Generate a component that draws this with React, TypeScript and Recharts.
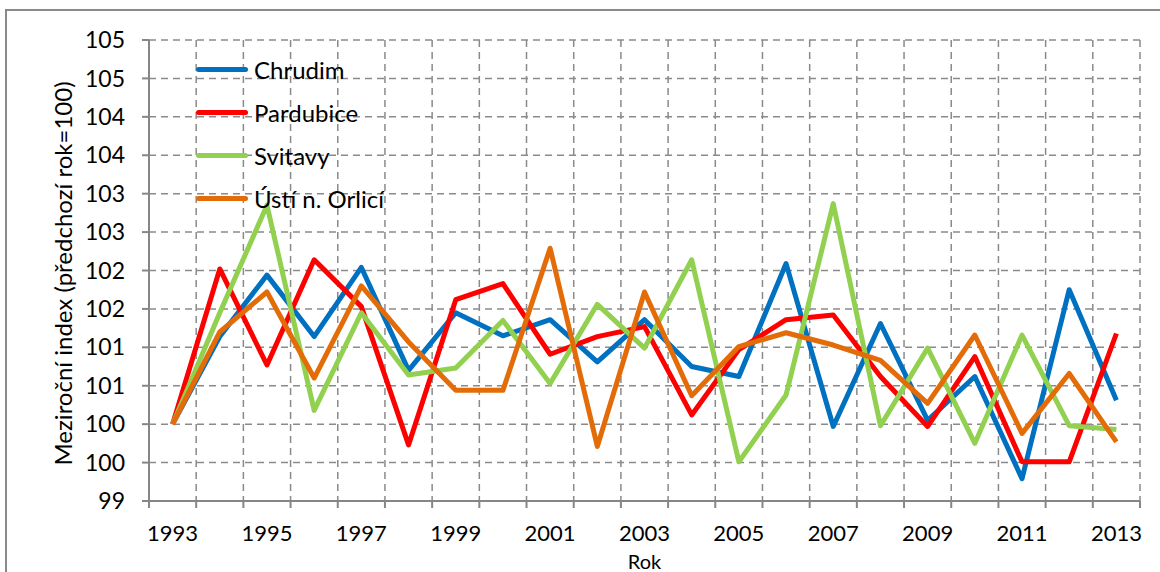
import React from "react";
import {
  LineChart,
  Line,
  XAxis,
  YAxis,
  CartesianGrid,
  Legend,
  Label,
} from "recharts";

// Years and series values
const years = [
  1993, 1994, 1995, 1996, 1997, 1998, 1999, 2000, 2001, 2002, 2003,
  2004, 2005, 2006, 2007, 2008, 2009, 2010, 2011, 2012, 2013,
];

const chrudim = [
  100, 101.14, 101.94, 101.14, 102.04, 100.7, 101.45, 101.15, 101.36, 100.81, 101.36,
  100.75, 100.62, 102.09, 99.97, 101.31, 100.05, 100.62, 99.29, 101.75, 100.31,
];

const pardubice = [
  100, 102.02, 100.77, 102.14, 101.53, 99.73, 101.62, 101.83, 100.91, 101.14, 101.27,
  100.12, 100.97, 101.36, 101.42, 100.62, 99.97, 100.88, 99.51, 99.51, 101.18,
];

const svitavy = [
  100, 101.45, 102.85, 100.18, 101.45, 100.64, 100.73, 101.35, 100.53, 101.56, 100.99,
  102.14, 99.51, 100.38, 102.87, 99.98, 100.99, 99.75, 101.16, 99.98, 99.93,
];

const ustiNO = [
  100, 101.2, 101.72, 100.6, 101.8, 101.07, 100.44, 100.44, 102.29, 99.71, 101.72,
  100.37, 101.01, 101.19, 101.03, 100.83, 100.27, 101.16, 99.88, 100.66, 99.77,
];

// Axis ticks
const yTicks = [99, 99.5, 100, 100.5, 101, 101.5, 102, 102.5, 103, 103.5, 104, 104.5, 105];
const yearBoundaries = [
  1992.5, 1993.5, 1994.5, 1995.5, 1996.5, 1997.5, 1998.5, 1999.5, 2000.5, 2001.5, 2002.5,
  2003.5, 2004.5, 2005.5, 2006.5, 2007.5, 2008.5, 2009.5, 2010.5, 2011.5, 2012.5, 2013.5,
];
const labelYears = [1993, 1995, 1997, 1999, 2001, 2003, 2005, 2007, 2009, 2011, 2013];

const data = years.map((year, i) => ({
  year,
  chrudim: chrudim[i],
  pardubice: pardubice[i],
  svitavy: svitavy[i],
  usti: ustiNO[i],
}));

const series = [
  { key: "chrudim", name: "Chrudim", color: "#0070C0" },
  { key: "pardubice", name: "Pardubice", color: "#FF0000" },
  { key: "svitavy", name: "Svitavy", color: "#92D050" },
  { key: "usti", name: "Ústí n. Orlicí", color: "#E36C09" },
];

const FONT = "Lato, 'Open Sans', sans-serif";
const AXIS_COLOR = "#868686";
const GRID_COLOR = "#8a8a8a";

const LegendContent = ({ payload }: any) => (
  <div style={{ fontFamily: FONT, fontSize: 24, color: "#000" }}>
    {(payload || []).map((entry: any) => (
      <div
        key={entry.value}
        style={{ display: "flex", alignItems: "center", height: 43 }}
      >
        <span
          style={{
            display: "inline-block",
            width: 52,
            height: 5,
            borderRadius: 3,
            background: entry.color,
            marginRight: 6,
          }}
        />
        <span style={{ lineHeight: "26px" }}>{entry.value}</span>
      </div>
    ))}
  </div>
);

export default function App() {
  return (
    <div style={{ position: "relative", width: 1160, height: 572, background: "#fff", overflow: "hidden" }}>
      <style>{`body{margin:0}`}</style>
      {/* outer frame */}
      <div
        style={{
          position: "absolute",
          top: 9,
          left: 5,
          right: -10,
          bottom: -10,
          borderTop: "2px solid #8a8a8a",
          borderLeft: "2px solid #8a8a8a",
        }}
      />
      <LineChart
        width={1160}
        height={572}
        data={data}
        margin={{ top: 40, right: 20, bottom: 0, left: 0 }}
        style={{ fontFamily: FONT }}
      >
        <CartesianGrid
          xAxisId="a"
          stroke={GRID_COLOR}
          strokeDasharray="7 5"
          strokeWidth={1.5}
        />
        {/* category boundaries: grid lines + tick marks */}
        <XAxis
          xAxisId="a"
          dataKey="year"
          type="number"
          domain={[1992.5, 2013.5]}
          allowDataOverflow
          ticks={yearBoundaries}
          interval={0}
          tick={{ fill: "transparent", fontSize: 1 }}
          tickSize={7}
          height={7}
          axisLine={{ stroke: AXIS_COLOR, strokeWidth: 2 }}
          tickLine={{ stroke: AXIS_COLOR, strokeWidth: 2 }}
        />
        {/* year labels */}
        <XAxis
          xAxisId="b"
          dataKey="year"
          type="number"
          domain={[1992.5, 2013.5]}
          allowDataOverflow
          ticks={labelYears}
          interval={0}
          axisLine={false}
          tickLine={false}
          tickSize={0}
          tickMargin={17}
          height={64}
          tick={{ fill: "#000", fontSize: 22, fontFamily: FONT }}
        >
          <Label
            value="Rok"
            position="insideBottom"
            offset={3}
            style={{ fill: "#000", fontSize: 20, fontFamily: FONT }}
          />
        </XAxis>
        <YAxis
          type="number"
          domain={[99, 105]}
          ticks={yTicks}
          interval={0}
          width={149}
          tickSize={7}
          tickMargin={17}
          tickFormatter={(v: number) => String(Math.round(v))}
          axisLine={{ stroke: AXIS_COLOR, strokeWidth: 2 }}
          tickLine={{ stroke: AXIS_COLOR, strokeWidth: 2 }}
          tick={{ fill: "#000", fontSize: 23, fontFamily: FONT }}
        >
          <Label
            value="Meziroční index (předchozí rok=100)"
            angle={-90}
            position="center"
            dx={-11}
            dy={3}
            style={{ fill: "#000", fontSize: 24, fontFamily: FONT, textAnchor: "middle" }}
          />
        </YAxis>
        <Legend
          layout="vertical"
          align="center"
          verticalAlign="middle"
          wrapperStyle={{ top: 48, left: 196, width: "auto", height: "auto" }}
          content={<LegendContent />}
        />
        {series.map((s) => (
          <Line
            key={s.key}
            xAxisId="a"
            type="linear"
            dataKey={s.key}
            name={s.name}
            stroke={s.color}
            strokeWidth={5}
            strokeLinejoin="round"
            dot={false}
            activeDot={false}
            isAnimationActive={false}
          />
        ))}
      </LineChart>
    </div>
  );
}
